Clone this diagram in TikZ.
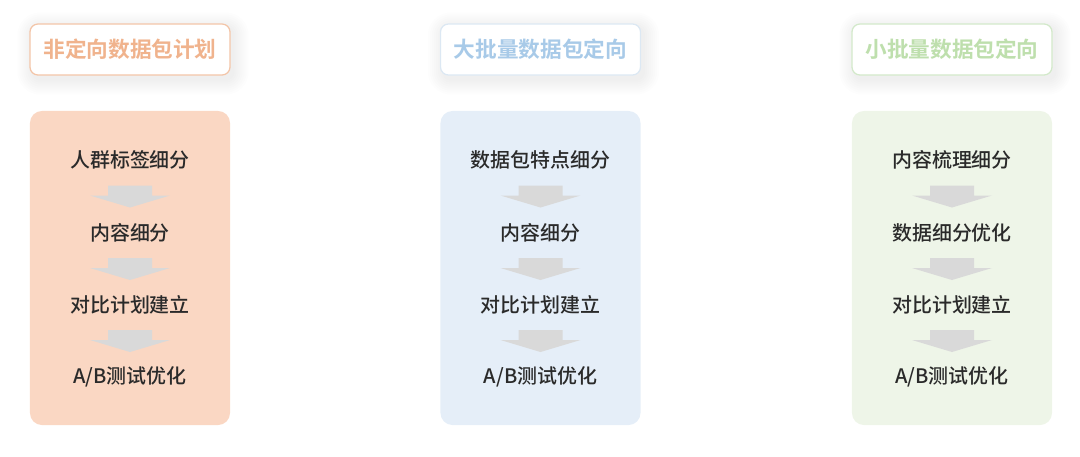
\documentclass[tikz,border=0pt]{standalone}
\usepackage{fontspec}
\usepackage{xcolor}
\usepackage{tikz}
\newfontfamily\cjk{Noto Sans CJK SC Medium}[BoldFont={Noto Sans CJK SC Bold}]
\usetikzlibrary{positioning,calc,backgrounds}

\definecolor{peachfill}{HTML}{FAD7C3}
\definecolor{peachline}{HTML}{F3C5A8}
\definecolor{peachtext}{HTML}{F0B38D}
\definecolor{bluefill}{HTML}{E5EEF8}
\definecolor{blueline}{HTML}{DCE8F3}
\definecolor{bluetext}{HTML}{A8CAE8}
\definecolor{greenfill}{HTML}{EEF5E8}
\definecolor{greenline}{HTML}{D3E9CA}
\definecolor{greentext}{HTML}{BEDFAD}
\definecolor{arrowgray}{HTML}{D9D9D9}
\definecolor{steptext}{HTML}{2A2A2A}

% grey block arrow half way between two steps
\newcommand{\flowarrow}[2]{%
    \begin{scope}[shift={($(#1)!0.5!(#2)$)}]
        \fill[arrowgray] (-22,-11) -- (22,-11) -- (22,-1) -- (40,-1) -- (0,11)
            -- (-40,-1) -- (-22,-1) -- cycle;
    \end{scope}}

% soft shadow behind a title box
\newcommand{\softshadow}[1]{%
    \begin{pgfonlayer}{background}
        \foreach \s in {1,3,...,15}
            \fill[black, opacity=0.006, rounded corners=(8+\s)*0.025cm]
                ($(#1.south west)+(3-\s,4+\s)$) rectangle ($(#1.north east)+(3+\s,4-\s)$);
    \end{pgfonlayer}}

\begin{document}
\begin{tikzpicture}[x=0.025cm, y=-0.025cm,
    hdr/.style={draw, line width=0.9pt, fill=white, rounded corners=0.2cm,
        minimum width=5cm, minimum height=1.275cm,
        font=\cjk\bfseries\fontsize{15.4}{18}\selectfont},
    panel/.style={rounded corners=0.3cm, minimum width=5cm, minimum height=7.85cm},
    stepnode/.style={text=steptext, font=\cjk\fontsize{14.2}{17}\selectfont}]
    \useasboundingbox (0,0) rectangle (1080,456);

    % Non-targeted plan
    \begin{scope}[xshift=130*0.025cm]
        \node[hdr, draw=peachline, text=peachtext] (hdrA) at (0,49.5) {非定向数据包计划};
        \softshadow{hdrA}
        \node[panel, fill=peachfill] (panelA) at (0,268) {};
        \node[stepnode] (a1) at (0,160) {人群标签细分};
        \node[stepnode] (a2) at (0,233) {内容细分};
        \node[stepnode] (a3) at (0,305) {对比计划建立};
        \node[stepnode] (a4) at (0,377) {A/B测试优化};
        \flowarrow{a1}{a2}
        \flowarrow{a2}{a3}
        \flowarrow{a3}{a4}
    \end{scope}

    % Large package targeting
    \begin{scope}[xshift=540.5*0.025cm]
        \node[hdr, draw=blueline, text=bluetext] (hdrB) at (0,49.5) {大批量数据包定向};
        \softshadow{hdrB}
        \node[panel, fill=bluefill] (panelB) at (0,268) {};
        \node[stepnode] (b1) at (0,160) {数据包特点细分};
        \node[stepnode] (b2) at (0,233) {内容细分};
        \node[stepnode] (b3) at (0,305) {对比计划建立};
        \node[stepnode] (b4) at (0,377) {A/B测试优化};
        \flowarrow{b1}{b2}
        \flowarrow{b2}{b3}
        \flowarrow{b3}{b4}
    \end{scope}

    % Small package targeting
    \begin{scope}[xshift=952*0.025cm]
        \node[hdr, draw=greenline, text=greentext] (hdrC) at (0,49.5) {小批量数据包定向};
        \softshadow{hdrC}
        \node[panel, fill=greenfill] (panelC) at (0,268) {};
        \node[stepnode] (c1) at (0,160) {内容梳理细分};
        \node[stepnode] (c2) at (0,233) {数据细分优化};
        \node[stepnode] (c3) at (0,305) {对比计划建立};
        \node[stepnode] (c4) at (0,377) {A/B测试优化};
        \flowarrow{c1}{c2}
        \flowarrow{c2}{c3}
        \flowarrow{c3}{c4}
    \end{scope}
\end{tikzpicture}
\end{document}
